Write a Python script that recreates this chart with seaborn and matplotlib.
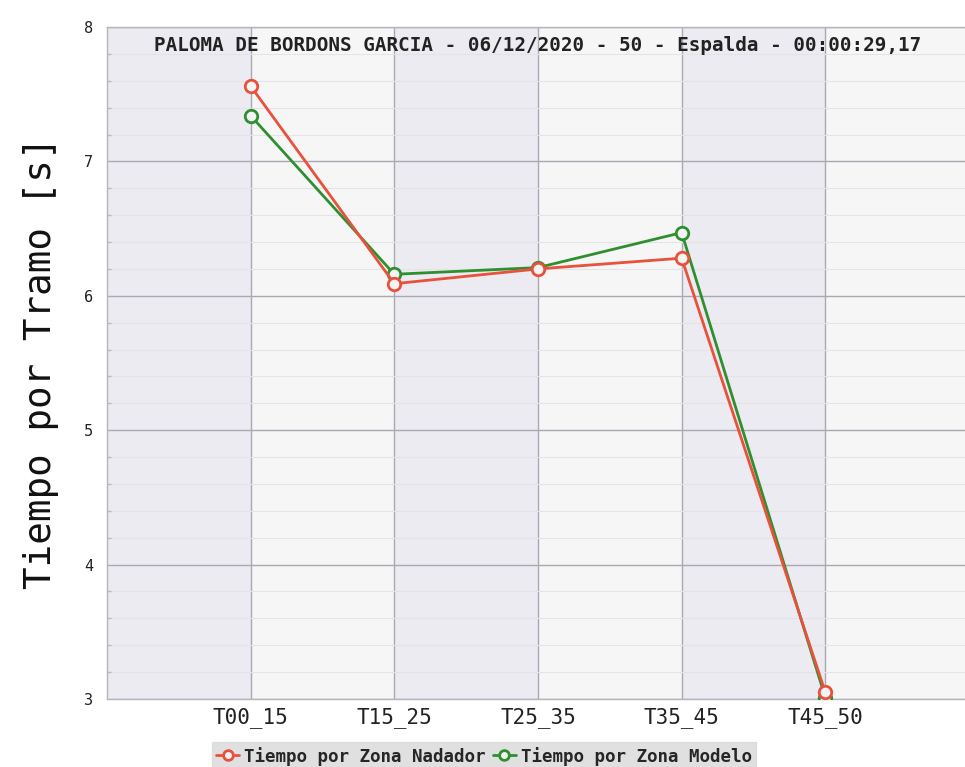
import matplotlib
matplotlib.use("Agg")
import matplotlib.pyplot as plt
import seaborn as sns
import pandas as pd
import numpy as np

# datos
tramos = ["T00_15", "T15_25", "T25_35", "T35_45", "T45_50"]
nadador = [7.56, 6.09, 6.20, 6.28, 3.05]
modelo = [7.34, 6.16, 6.21, 6.47, 3.01]
series = ["Tiempo por Zona Nadador", "Tiempo por Zona Modelo"]
colores = ["#e8513b", "#2f8f2f"]
titulo = "PALOMA DE BORDONS GARCIA - 06/12/2020 - 50 - Espalda - 00:00:29,17"
etiqueta_y = "Tiempo por Tramo [s]"

df = pd.DataFrame({
    "Tramo": tramos * 2,
    "Tiempo": nadador + modelo,
    "Serie": [series[0]] * len(tramos) + [series[1]] * len(tramos),
})

sns.set_theme(style="white")
plt.rcParams["font.family"] = ["DejaVu Sans Mono", "DejaVu Sans"]

fig = plt.figure(figsize=(9.65, 7.67), dpi=100)
ax = fig.add_axes([107 / 965, 68 / 767, 862 / 965, 672 / 767])

# bandas de fondo alternas
for i in range(-1, len(tramos)):
    color = "#ebebf1" if (i % 2 != 0) else "#f6f6f7"
    ax.axvspan(i, i + 1, color=color, zorder=0, lw=0)

sns.lineplot(
    data=df, x="Tramo", y="Tiempo", hue="Serie", ax=ax,
    palette=colores, marker="o", markersize=9,
    markerfacecolor="#f4f4f4", markeredgewidth=2, linewidth=2,
    legend=False, zorder=3,
)
# nadador encima del modelo, como en el original
for ln in ax.lines:
    ln.set_markeredgecolor(ln.get_color())
ax.lines[0].set_zorder(4)

ax.set_xlim(-1, len(tramos))
ax.set_ylim(3, 8)
ax.set_yticks(range(3, 9))
ax.set_yticks(np.arange(3, 8.01, 0.2), minor=True)
ax.set_xticks(range(len(tramos)))
ax.set_xticklabels(tramos)

ax.grid(True, which="major", color="#a9a9b2", lw=1, zorder=1)
ax.grid(True, which="minor", axis="y", color="#e4e4e8", lw=0.8, zorder=1)
ax.set_axisbelow(True)

ax.tick_params(axis="x", labelsize=15, colors="#222222", length=4,
               direction="in", pad=6, color="#999999")
ax.tick_params(axis="y", labelsize=11, colors="#222222", length=4,
               direction="in", pad=10, color="#999999")
ax.tick_params(axis="y", which="minor", length=3, direction="in",
               color="#bbbbbb", left=True)
for s in ax.spines.values():
    s.set_color("#b5b5bb")
    s.set_linewidth(1)

ax.set_xlabel("")
ax.set_ylabel(etiqueta_y, fontsize=27, color="#111111", labelpad=18)

ax.text(0.499, 0.987, titulo, transform=ax.transAxes, ha="center", va="top",
        fontsize=13.9, fontweight="bold", color="#222222", zorder=5)

# leyenda inferior
manejadores = []
for c in colores:
    h, = ax.plot([], [], color=c, marker="o", markerfacecolor="#f4f4f4",
                 markeredgecolor=c, markeredgewidth=2, markersize=7, lw=2)
    manejadores.append(h)
leg = fig.legend(manejadores, series, loc="center", bbox_to_anchor=(0.5016, 0.0143),
                 ncol=2, frameon=True, fancybox=False, handlelength=1.3,
                 handletextpad=0.3, columnspacing=0.4, borderpad=0.25,
                 prop={"weight": "bold", "size": 12.6})
leg.get_frame().set_facecolor("#d9d9d9")
leg.get_frame().set_edgecolor("#d9d9d9")

fig.savefig("out.png", dpi=100)
